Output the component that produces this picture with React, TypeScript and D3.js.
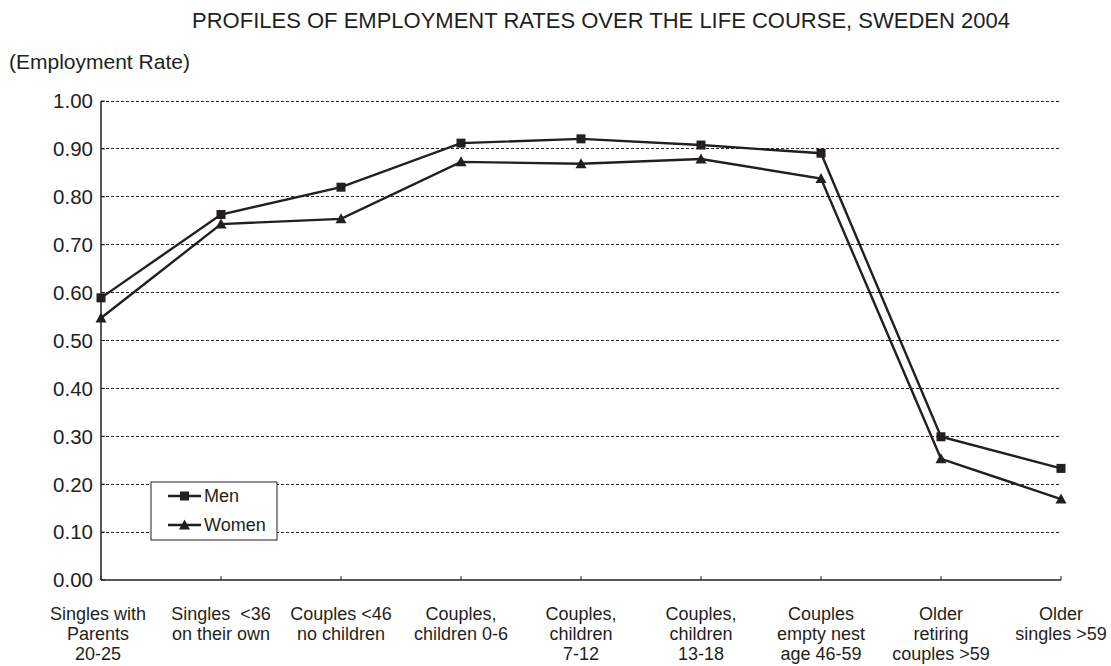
import React from "react";
import { scaleLinear, scalePoint, line, range } from "d3";

const categories: string[][] = [
  ["Singles with", "Parents", "20-25"],
  ["Singles  <36", "on their own"],
  ["Couples <46", "no children"],
  ["Couples,", "children 0-6"],
  ["Couples,", "children", "7-12"],
  ["Couples,", "children", "13-18"],
  ["Couples", "empty nest", "age 46-59"],
  ["Older", "retiring", "couples >59"],
  ["Older", "singles >59"],
];

const men: number[] = [0.589, 0.763, 0.82, 0.912, 0.921, 0.908, 0.891, 0.299, 0.233];
const women: number[] = [0.547, 0.743, 0.754, 0.873, 0.869, 0.879, 0.838, 0.253, 0.169];

const yTicks: number[] = [0, 0.1, 0.2, 0.3, 0.4, 0.5, 0.6, 0.7, 0.8, 0.9, 1.0];

const W = 1111;
const H = 666;
const ink = "#231f20";
const font = "'Liberation Sans', Arial, sans-serif";

export default function App(): JSX.Element {
  const keys = range(categories.length).map(String);
  const x = scalePoint<string>().domain(keys).range([101, 1061]).padding(0);
  const y = scaleLinear().domain([0, 1]).range([580, 101]);

  const path = line<number>()
    .x((_, i) => x(String(i)) ?? 0)
    .y((d) => y(d));

  const square = (cx: number, cy: number, key: string) => (
    <rect key={key} x={cx - 4.5} y={cy - 4.5} width={9} height={9} fill={ink} />
  );
  const triangle = (cx: number, cy: number, key: string) => (
    <path key={key} d={`M${cx},${cy - 5.5}L${cx + 5.5},${cy + 4.5}L${cx - 5.5},${cy + 4.5}Z`} fill={ink} />
  );

  return (
    <div style={{ position: "absolute", left: 0, top: 0 }}>
      <svg width={W} height={H} style={{ display: "block", background: "#fff" }} fontFamily={font}>
        {/* title */}
        <text x={601} y={28} textAnchor="middle" fontSize={22} fill={ink}>
          PROFILES OF EMPLOYMENT RATES OVER THE LIFE COURSE, SWEDEN 2004
        </text>
        <text x={9} y={69} fontSize={21} fill={ink}>
          (Employment Rate)
        </text>

        {/* grid */}
        {yTicks.slice(1).map((t) => (
          <line
            key={`g${t}`}
            x1={101}
            x2={1061}
            y1={y(t)}
            y2={y(t)}
            stroke={ink}
            strokeWidth={1}
            strokeDasharray="3,2"
            shapeRendering="crispEdges"
          />
        ))}

        {/* y axis */}
        <line x1={101} x2={101} y1={y(1)} y2={y(0)} stroke={ink} strokeWidth={1.5} />
        {yTicks.map((t) => (
          <g key={`y${t}`}>
            <line x1={101} x2={105} y1={y(t)} y2={y(t)} stroke={ink} strokeWidth={1} />
            <text x={93} y={y(t)} dy="0.36em" textAnchor="end" fontSize={20.5} fill={ink}>
              {t.toFixed(2)}
            </text>
          </g>
        ))}

        {/* x axis */}
        <line x1={101} x2={1061} y1={y(0)} y2={y(0)} stroke={ink} strokeWidth={1.5} />
        {keys.map((k) => (
          <line key={`xt${k}`} x1={x(k)} x2={x(k)} y1={y(0)} y2={y(0) - 4} stroke={ink} strokeWidth={1} />
        ))}
        {categories.map((lines, i) => (
          <text
            key={`xl${i}`}
            x={x(String(i))}
            y={620}
            textAnchor="middle"
            fontSize={18}
            fill={ink}
            style={{ whiteSpace: "pre" }}
          >
            {lines.map((s, j) => (
              <tspan key={j} x={(x(String(i)) ?? 0) - (i === 0 ? 3 : 0)} y={620 + j * 20}>
                {s}
              </tspan>
            ))}
          </text>
        ))}

        {/* series */}
        <path d={path(men) ?? ""} fill="none" stroke={ink} strokeWidth={2.4} />
        <path d={path(women) ?? ""} fill="none" stroke={ink} strokeWidth={2.4} />
        {men.map((v, i) => square(x(String(i)) ?? 0, y(v), `m${i}`))}
        {women.map((v, i) => triangle(x(String(i)) ?? 0, y(v), `w${i}`))}

        {/* legend */}
        <g>
          <rect x={151} y={482} width={126} height={58} fill="#fff" stroke={ink} strokeWidth={1} />
          <line x1={168} x2={201} y1={496} y2={496} stroke={ink} strokeWidth={2.4} />
          {square(184.5, 496, "lm")}
          <text x={204} y={496} dy="0.36em" fontSize={18} fill={ink}>
            Men
          </text>
          <line x1={168} x2={201} y1={525} y2={525} stroke={ink} strokeWidth={2.4} />
          {triangle(184.5, 525, "lw")}
          <text x={204} y={525} dy="0.36em" fontSize={18} fill={ink}>
            Women
          </text>
        </g>
      </svg>
    </div>
  );
}
